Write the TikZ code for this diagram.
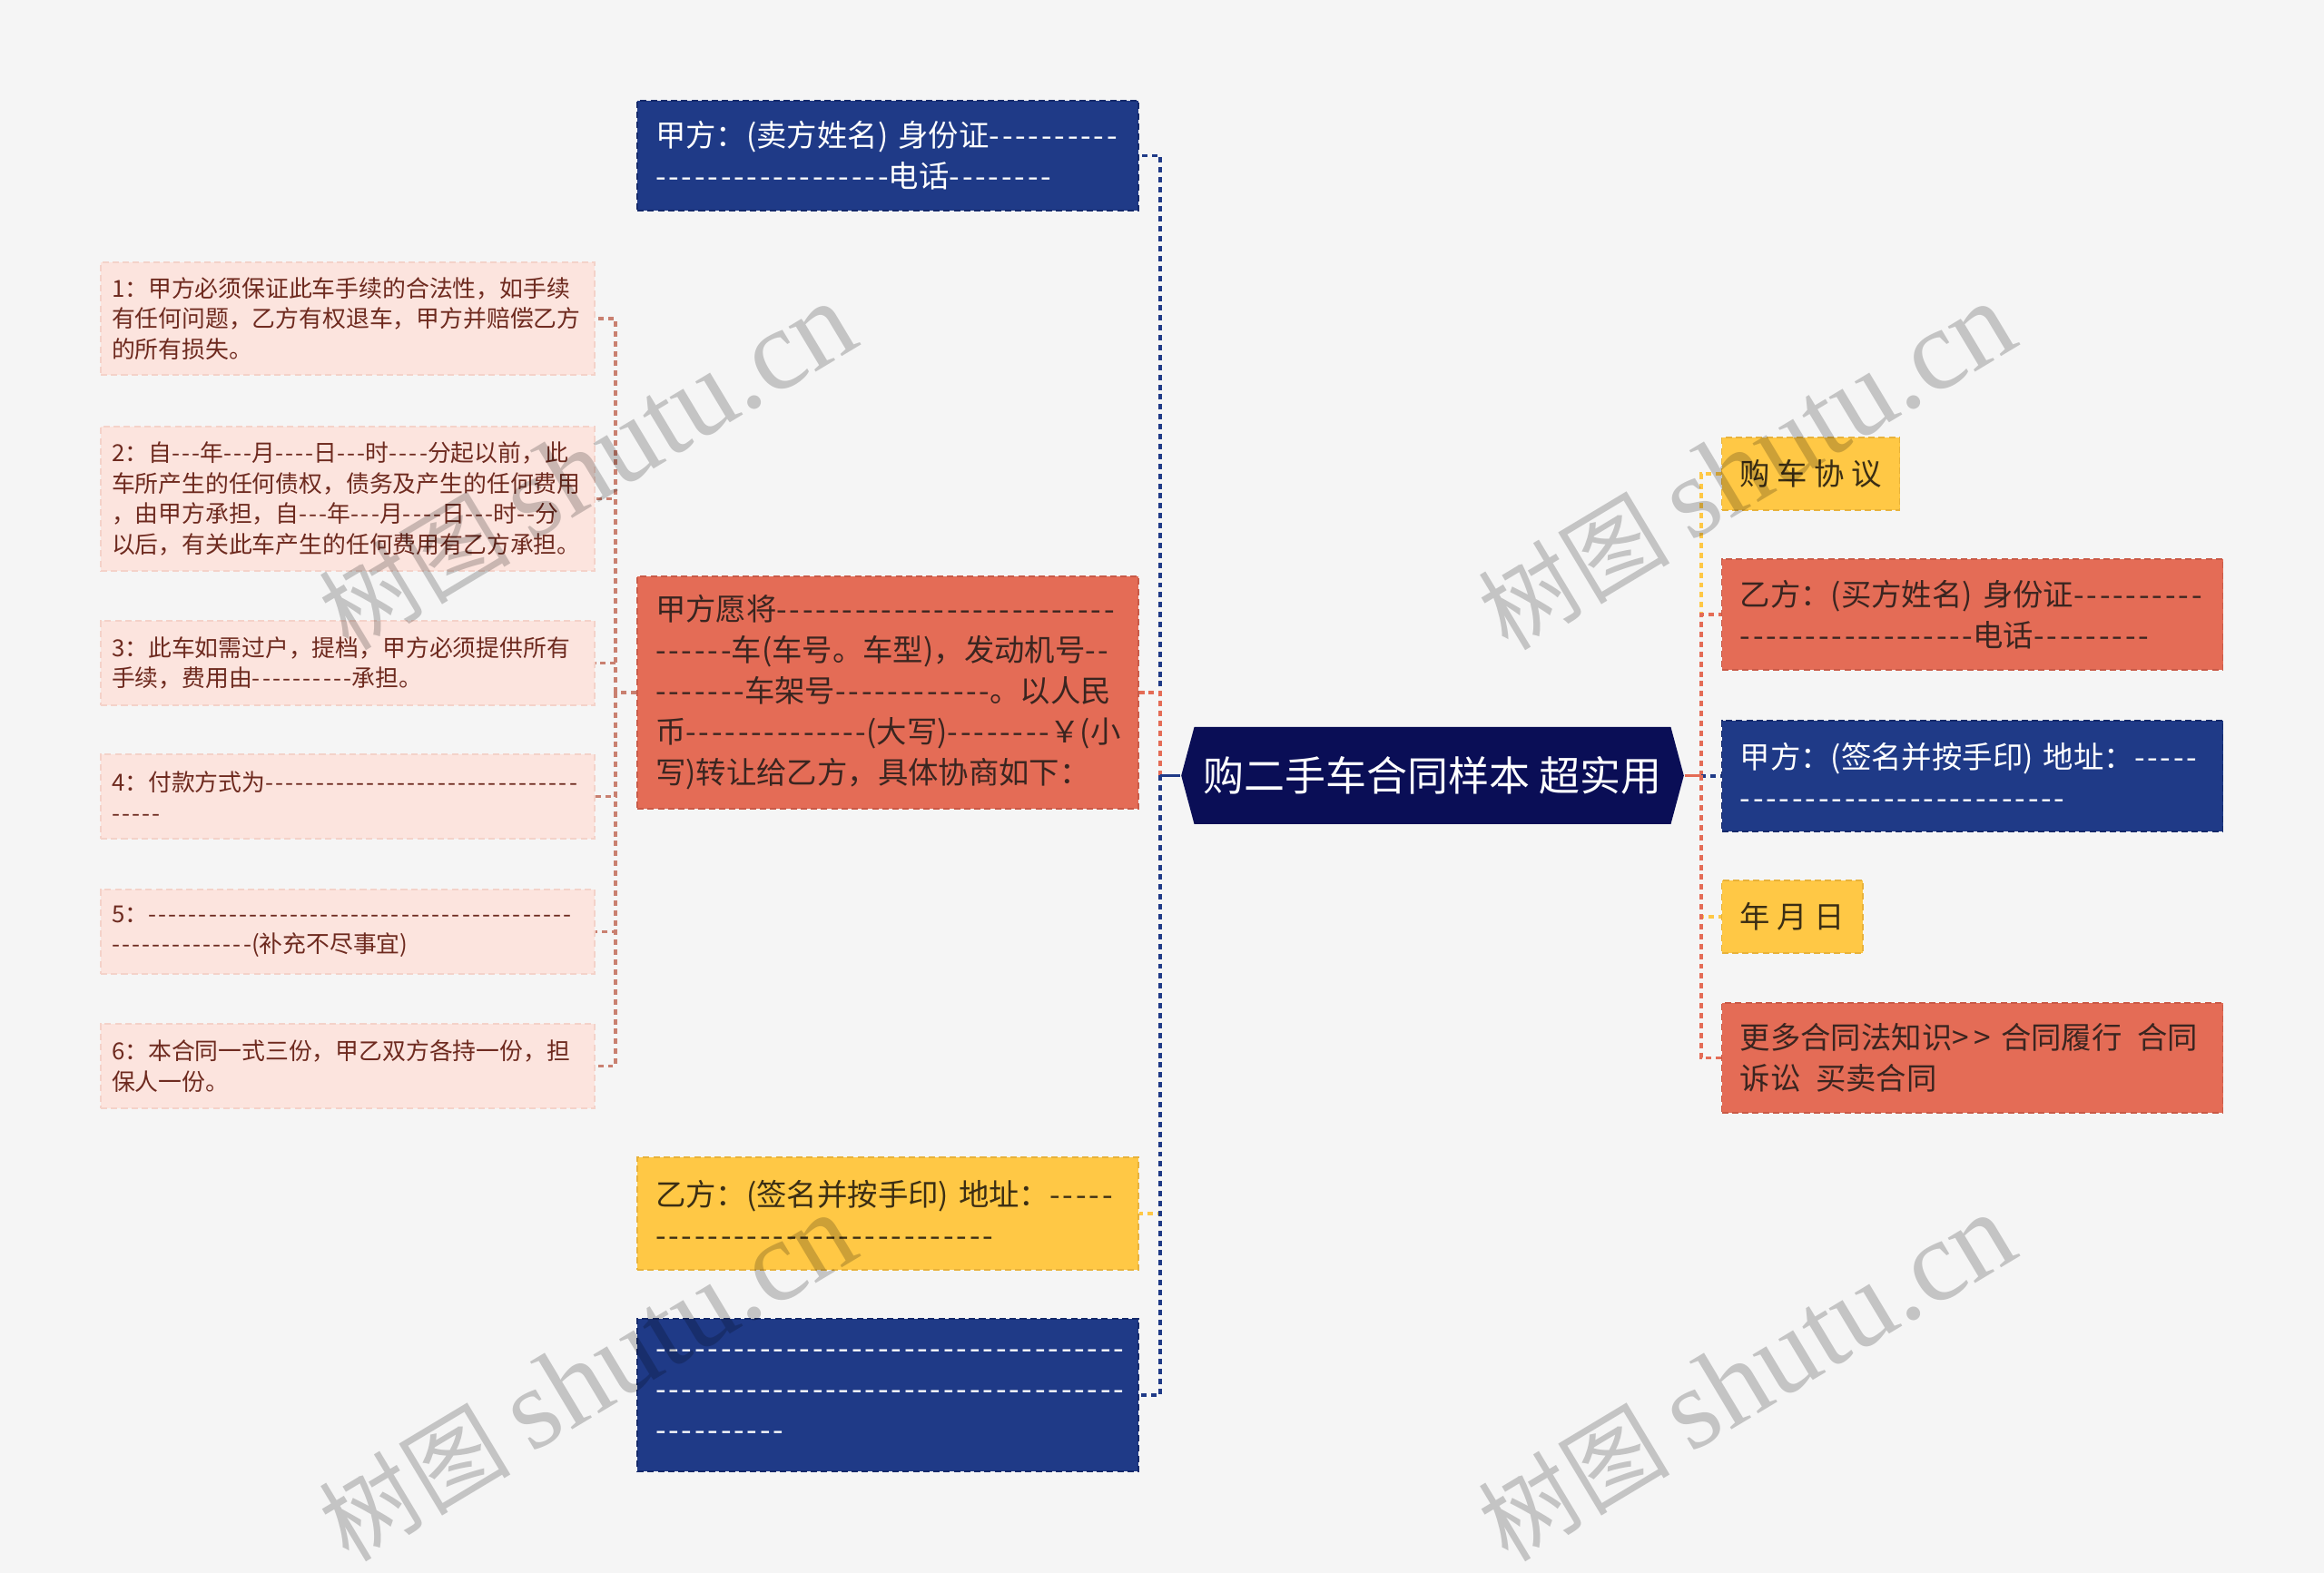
\documentclass[tikz,border=0pt]{standalone}
\usepackage{fontspec}
\setmainfont{Noto Sans CJK SC}[Ligatures=TeXOff]
\newfontfamily\dashfont{Noto Sans CJK SC}[Ligatures=TeXOff, LetterSpace=8.5]
\newfontfamily\wmserif{Liberation Serif}
\newcommand\dl[1]{{\dashfont #1}}
\usetikzlibrary{shapes.symbols}
\exhyphenpenalty=10000
\hyphenpenalty=10000
\hbadness=10000
\hfuzz=20pt
\definecolor{bg}{HTML}{F5F5F5}
\definecolor{rootnavy}{HTML}{0A0E56}
\definecolor{navy}{HTML}{1F3A87}
\definecolor{navyedge}{HTML}{14296A}
\definecolor{coral}{HTML}{E46C56}
\definecolor{coraledge}{HTML}{C95A47}
\definecolor{coraltext}{HTML}{3A2520}
\definecolor{amber}{HTML}{FFC845}
\definecolor{amberedge}{HTML}{E8B23A}
\definecolor{ambertext}{HTML}{3B2E14}
\definecolor{blush}{HTML}{FCE4DE}
\definecolor{blushedge}{HTML}{F4D2C9}
\definecolor{blushtext}{HTML}{6E2A1F}
\definecolor{blushline}{HTML}{C98070}
\tikzstyle{box} = [rectangle, draw, dash pattern=on 2pt off 1.2pt, line width=0.4pt, align=left, inner ysep=0pt, inner xsep=0.2cm, font=\fontsize{9.5}{12.8}\selectfont]
\tikzstyle{navybox} = [box, fill=navy, draw=navyedge, text=white, text width=5.12cm]
\tikzstyle{coralbox} = [box, fill=coral, draw=coraledge, text=coraltext, text width=5.12cm]
\tikzstyle{amberbox} = [box, fill=amber, draw=amberedge, text=ambertext]
\tikzstyle{notebox} = [box, fill=blush, draw=blushedge, text=blushtext, inner xsep=0.12cm, text width=5.2cm, minimum height=0.93cm, font=\fontsize{7.35}{9.5}\selectfont]
\tikzstyle{rootbox} = [signal, signal to=west and east, signal pointer angle=150, fill=rootnavy, text=white, minimum width=5.02cm, minimum height=1.07cm, inner xsep=0.1cm, font=\fontsize{12.8}{15}\selectfont]
\tikzstyle{line} = [draw, line width=0.9pt, dash pattern=on 1.7pt off 1.4pt]
\tikzstyle{stub} = [draw, line width=0.9pt]
\tikzstyle{wmtext} = [rotate=31, text=black, text opacity=0.2, font=\fontsize{30}{30}\selectfont]

\begin{document}
\begin{tikzpicture}
\useasboundingbox (0,0) rectangle (25.6,-17.33);
\fill [bg] (0,0) rectangle (25.6,-17.33);

\node [rootbox] (root) at (15.78,-8.545) {购二手车合同样本 超实用};

\node [navybox, minimum height=1.21cm] (l1) at (9.78,-1.715) {甲方：(卖方姓名) 身份证\dl{----------}\\\dl{------------------}电话\dl{--------}};
\node [coralbox, minimum height=2.56cm] (l2) at (9.78,-7.63) {甲方愿将\dl{--------------------------}\\\dl{------}车(车号。车型)，发动机号\dl{--}\\\dl{-------}车架号\dl{------------}。以人民\\币\dl{--------------}(大写)\dl{--------}￥(小\\写)转让给乙方，具体协商如下：};
\node [amberbox, text width=5.12cm, minimum height=1.24cm] (l3) at (9.78,-13.37) {乙方：(签名并按手印) 地址：\dl{-----}\\\dl{--------------------------}};
\node [navybox, minimum height=1.68cm] (l4) at (9.78,-15.37) {\dl{------------------------------------}\\\dl{------------------------------------}\\\dl{----------}};

\node [notebox, minimum height=1.24cm] (n1) at (3.83,-3.51) {1：甲方必须保证此车手续的合法性，如手续\\有任何问题，乙方有权退车，甲方并赔偿乙方\\的所有损失。};
\node [notebox, minimum height=1.59cm] (n2) at (3.83,-5.495) {2：自\dl{---}年\dl{---}月\dl{----}日\dl{---}时\dl{----}分起以前，此\\车所产生的任何债权，债务及产生的任何费用\\，由甲方承担，自\dl{---}年\dl{---}月\dl{----}日\dl{---}时\dl{--}分\\以后，有关此车产生的任何费用有乙方承担。};
\node [notebox] (n3) at (3.83,-7.305) {3：此车如需过户，提档，甲方必须提供所有\\手续，费用由\dl{----------}承担。};
\node [notebox] (n4) at (3.83,-8.775) {4：付款方式为\dl{-------------------------------}\\\dl{-----}};
\node [notebox] (n5) at (3.83,-10.265) {5：\dl{------------------------------------------}\\\dl{--------------}(补充不尽事宜)};
\node [notebox] (n6) at (3.83,-11.745) {6：本合同一式三份，甲乙双方各持一份，担\\保人一份。};

\node [amberbox, anchor=west, minimum height=0.8cm] (r1) at (18.96,-5.22) {购 车 协 议};
\node [coralbox, anchor=west, minimum height=1.22cm] (r2) at (18.96,-6.77) {乙方：(买方姓名) 身份证\dl{----------}\\\dl{------------------}电话\dl{---------}};
\node [navybox, anchor=west, minimum height=1.22cm] (r3) at (18.96,-8.55) {甲方：(签名并按手印) 地址：\dl{-----}\\\dl{-------------------------}};
\node [amberbox, anchor=west, minimum height=0.8cm] (r4) at (18.96,-10.10) {年 月 日};
\node [coralbox, anchor=west, minimum height=1.21cm] (r5) at (18.96,-11.655) {更多合同法知识>\,> 合同履行\enspace{}合同\\诉讼\enspace{}买卖合同};

\coordinate (lhub) at (12.78,-8.545);
\coordinate (rhub) at (18.74,-8.545);
\coordinate (nhub) at (6.78,-7.63);

\path [line, draw=navy] (lhub) |- (l1.east);
\path [line, draw=coral] (lhub) |- (l2.east);
\path [line, draw=amber] (lhub) |- (l3.east);
\path [line, draw=navy] (lhub) |- (l4.east);
\path [stub, draw=navy] (root.west) -- (lhub);

\path [line, draw=amber] (rhub) |- (r1.west);
\path [line, draw=coral] (rhub) |- (r2.west);
\path [line, draw=navy] (rhub) |- (r3.west);
\path [line, draw=amber] (rhub) |- (r4.west);
\path [line, draw=coral] (rhub) |- (r5.west);
\path [stub, draw=coral] (root.east) -- (rhub);

\path [line, draw=blushline] (l2.west) -- (nhub);
\path [line, draw=blushline] (nhub) |- (n1.east);
\path [line, draw=blushline] (nhub) |- (n2.east);
\path [line, draw=blushline] (nhub) |- (n3.east);
\path [line, draw=blushline] (nhub) |- (n4.east);
\path [line, draw=blushline] (nhub) |- (n5.east);
\path [line, draw=blushline] (nhub) |- (n6.east);

\node [wmtext] (wm1) at (6.47,-5.14) {树图 {\wmserif\fontsize{36}{36}\selectfont shutu.cn}};
\node [wmtext] (wm2) at (6.47,-15.18) {树图 {\wmserif\fontsize{36}{36}\selectfont shutu.cn}};
\node [wmtext] (wm3) at (19.24,-5.14) {树图 {\wmserif\fontsize{36}{36}\selectfont shutu.cn}};
\node [wmtext] (wm4) at (19.24,-15.18) {树图 {\wmserif\fontsize{36}{36}\selectfont shutu.cn}};

\end{tikzpicture}
\end{document}
